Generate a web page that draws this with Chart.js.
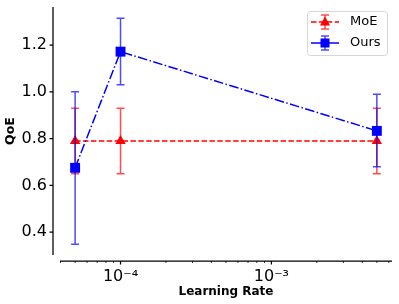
<!DOCTYPE html>
<html>
<head>
  <script src="https://cdn.jsdelivr.net/npm/chart.js"></script>
  <style>
    html, body { margin: 0; padding: 0; background: #ffffff; }
    #wrap { width: 399px; height: 304px; position: relative; }
  </style>
</head>
<body>
  <div id="wrap"><canvas id="qoeChart"></canvas></div>
  <script>
    // data
    const learningRates = [5e-5, 1e-4, 5e-3];
    const moeQoE = [0.79, 0.79, 0.79];
    const moeLow = [0.65, 0.65, 0.65];
    const moeHigh = [0.93, 0.93, 0.93];
    const oursQoE = [0.675, 1.172, 0.833];
    const oursLow = [0.348, 1.03, 0.68];
    const oursHigh = [1.0, 1.315, 0.99];
    const yTicks = [0.4, 0.6, 0.8, 1.0, 1.2];
    const xMajorTicks = [1e-4, 1e-3];
    const xTickLabels = ['10\u207B\u2074', '10\u207B\u00B3'];

    const FONT = "'DejaVu Sans', sans-serif";
    const Y_OFF = 7, X_OFF = 6;

    function pts(ys) {
      return learningRates.map((x, i) => ({ x: x, y: ys[i] }));
    }

    // error bars, axis spines (offset) and legend
    const extras = {
      id: 'extras',
      beforeDatasetDraw(chart, args) {
        const ds = chart.data.datasets[args.index];
        const xs = chart.scales.x, ys = chart.scales.y;
        const ctx = chart.ctx;
        ctx.save();
        ctx.strokeStyle = ds.errColor;
        ctx.lineWidth = 1.5;
        learningRates.forEach((lr, i) => {
          const px = xs.getPixelForValue(lr);
          const y1 = ys.getPixelForValue(ds.low[i]);
          const y2 = ys.getPixelForValue(ds.high[i]);
          ctx.beginPath();
          ctx.moveTo(px, y1); ctx.lineTo(px, y2);
          ctx.moveTo(px - 4, y1); ctx.lineTo(px + 4, y1);
          ctx.moveTo(px - 4, y2); ctx.lineTo(px + 4, y2);
          ctx.stroke();
        });
        ctx.restore();
      },
      afterDraw(chart) {
        const ctx = chart.ctx, a = chart.chartArea;
        const xs = chart.scales.x, ys = chart.scales.y;
        ctx.save();
        ctx.strokeStyle = '#000000';
        ctx.lineWidth = 1.25;
        // left spine
        const lx = a.left - Y_OFF;
        ctx.beginPath();
        ctx.moveTo(lx, a.top); ctx.lineTo(lx, a.bottom);
        yTicks.forEach(v => {
          const py = ys.getPixelForValue(v);
          ctx.moveTo(lx, py); ctx.lineTo(lx - 3.5, py);
        });
        ctx.stroke();
        // bottom spine
        const by = a.bottom + X_OFF;
        ctx.beginPath();
        ctx.moveTo(a.left, by); ctx.lineTo(a.right, by);
        xMajorTicks.forEach(v => {
          const px = xs.getPixelForValue(v);
          ctx.moveTo(px, by); ctx.lineTo(px, by + 3.5);
        });
        ctx.stroke();
        ctx.lineWidth = 0.8;
        ctx.beginPath();
        [1e-5, 1e-4, 1e-3].forEach(dec => {
          for (let k = 2; k <= 9; k++) {
            const v = dec * k;
            if (v < xs.min || v > xs.max) continue;
            const px = xs.getPixelForValue(v);
            ctx.moveTo(px, by); ctx.lineTo(px, by + 2);
          }
        });
        ctx.stroke();

        // legend
        const bx = 307, bt = 11, bw = 80, bh = 44;
        ctx.fillStyle = 'rgba(255,255,255,0.8)';
        ctx.strokeStyle = '#d6d6d6';
        ctx.lineWidth = 1;
        ctx.beginPath();
        ctx.roundRect(bx + 0.5, bt + 0.5, bw, bh, 3);
        ctx.fill(); ctx.stroke();
        const entries = [
          { label: 'MoE', color: '#ff0000', err: 'rgba(255,0,0,0.7)', dash: [5.5, 2.4], shape: 'triangle', y: 22 },
          { label: 'Ours', color: '#0000ff', err: 'rgba(0,0,255,0.7)', dash: [], shape: 'rect', y: 43 }
        ];
        entries.forEach(e => {
          const cx = 325;
          ctx.strokeStyle = e.err;
          ctx.lineWidth = 1.5;
          ctx.setLineDash([]);
          ctx.beginPath();
          ctx.moveTo(cx, e.y - 7); ctx.lineTo(cx, e.y + 7);
          ctx.moveTo(cx - 4, e.y - 7); ctx.lineTo(cx + 4, e.y - 7);
          ctx.moveTo(cx - 4, e.y + 7); ctx.lineTo(cx + 4, e.y + 7);
          ctx.stroke();
          ctx.strokeStyle = e.color;
          ctx.setLineDash(e.dash);
          ctx.beginPath();
          ctx.moveTo(311, e.y); ctx.lineTo(339, e.y);
          ctx.stroke();
          ctx.setLineDash([]);
          ctx.fillStyle = e.color;
          ctx.beginPath();
          if (e.shape === 'triangle') {
            ctx.moveTo(cx, e.y - 5.5);
            ctx.lineTo(cx + 5, e.y + 3.5);
            ctx.lineTo(cx - 5, e.y + 3.5);
            ctx.closePath();
          } else {
            ctx.rect(cx - 4.5, e.y - 4.5, 9, 9);
          }
          ctx.fill();
          ctx.fillStyle = '#000000';
          ctx.font = '13px ' + FONT;
          ctx.textBaseline = 'middle';
          ctx.textAlign = 'left';
          ctx.fillText(e.label, 350, e.y);
        });
        ctx.restore();
      }
    };

    new Chart(document.getElementById('qoeChart'), {
      type: 'line',
      data: {
        datasets: [
          {
            label: 'MoE',
            data: pts(moeQoE),
            low: moeLow, high: moeHigh,
            errColor: 'rgba(255,0,0,0.7)',
            borderColor: '#ff0000',
            backgroundColor: '#ff0000',
            borderWidth: 1.5,
            borderDash: [5.5, 2.4],
            pointStyle: 'triangle',
            pointRadius: 6,
            pointBorderWidth: 0,
            order: 2
          },
          {
            label: 'Ours',
            data: pts(oursQoE),
            low: oursLow, high: oursHigh,
            errColor: 'rgba(0,0,255,0.7)',
            borderColor: '#0000ff',
            backgroundColor: '#0000ff',
            borderWidth: 1.5,
            borderDash: [9.6, 2.4, 1.5, 2.4],
            pointStyle: 'rect',
            pointRadius: 7,
            pointBorderWidth: 0,
            order: 1
          }
        ]
      },
      options: {
        responsive: true,
        maintainAspectRatio: false,
        animation: false,
        layout: { padding: { top: 5, right: 4, left: 0, bottom: 0 } },
        plugins: { legend: { display: false }, tooltip: { enabled: false } },
        scales: {
          x: {
            type: 'logarithmic',
            min: 3.97e-5,
            max: 6.3e-3,
            grid: { display: false, drawTicks: false },
            border: { display: false },
            afterBuildTicks: s => { s.ticks = xMajorTicks.map(v => ({ value: v })); },
            afterFit: s => { s.height = 49; s.paddingLeft = 0; s.paddingRight = 0; },
            ticks: {
              autoSkip: false,
              maxRotation: 0,
              padding: 12,
              color: '#000000',
              font: { family: FONT, size: 16 },
              callback: (v) => xTickLabels[xMajorTicks.indexOf(v)] || ''
            },
            title: {
              display: true,
              text: 'Learning Rate',
              color: '#000000',
              font: { family: FONT, size: 12, weight: 'bold' },
              padding: { top: 0, bottom: 5 }
            }
          },
          y: {
            min: 0.302,
            max: 1.363,
            grid: { display: false, drawTicks: false },
            border: { display: false },
            afterBuildTicks: s => { s.ticks = yTicks.map(v => ({ value: v })); },
            afterFit: s => { s.width = 60; s.paddingTop = 0; s.paddingBottom = 0; },
            ticks: {
              padding: 13,
              color: '#000000',
              font: { family: FONT, size: 16 },
              callback: v => v.toFixed(1)
            },
            title: {
              display: true,
              text: 'QoE',
              color: '#000000',
              font: { family: FONT, size: 12.5, weight: 'bold' },
              padding: { top: 3, bottom: 0 }
            }
          }
        }
      },
      plugins: [extras]
    });
  </script>
</body>
</html>
